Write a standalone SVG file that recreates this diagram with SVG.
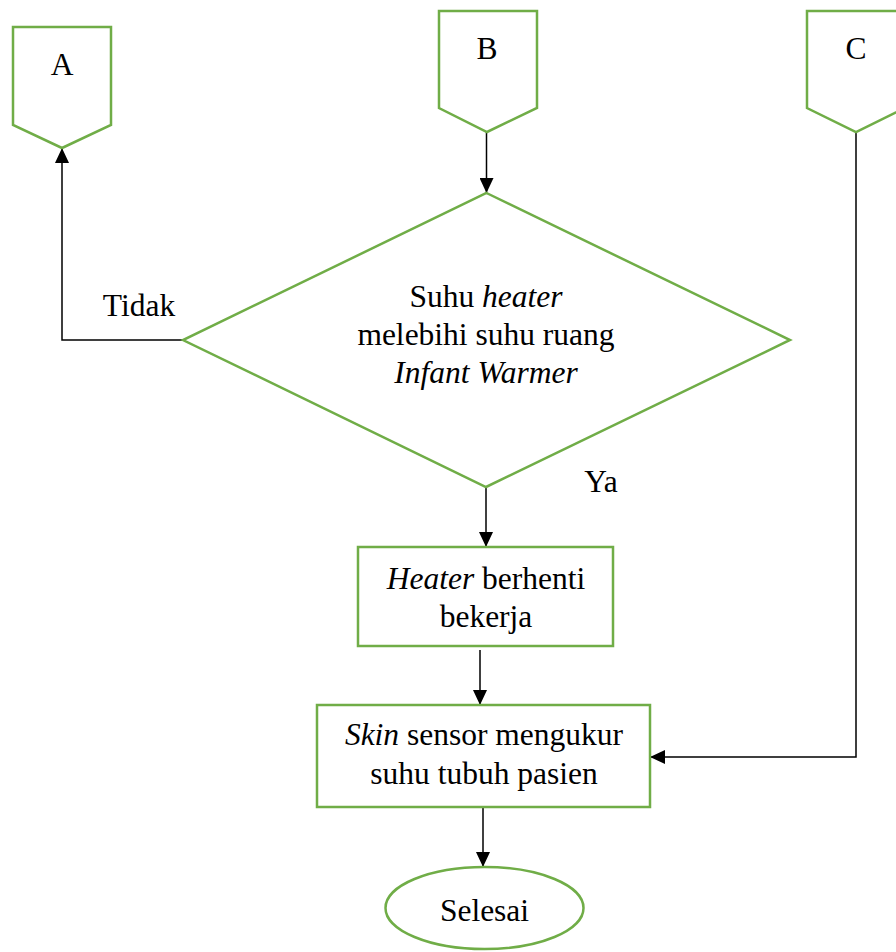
<svg xmlns="http://www.w3.org/2000/svg" width="896" height="952" viewBox="0 0 896 952">
<style>
.n{fill:#fff;stroke:#70AD47;stroke-width:2.5}
.c{fill:none;stroke:#000;stroke-width:1.5}
text{font-family:"Liberation Serif","Times New Roman",serif;font-size:31.5px;fill:#000;text-anchor:middle}
.i{font-style:italic}
</style>
<defs>
<marker id="ah" markerWidth="15" markerHeight="14" refX="15" refY="7" orient="auto" markerUnits="userSpaceOnUse">
<path d="M0,0 L15,7 L0,14 Z" fill="#000"/>
</marker>
</defs>
<g id="connectors">
<path class="c" d="M486.5,132 L486.5,193" marker-end="url(#ah)"/>
<path class="c" d="M183,340 L62,340 L62,148" marker-end="url(#ah)"/>
<path class="c" d="M486,487 L486,547" marker-end="url(#ah)"/>
<path class="c" d="M480,650 L480,705" marker-end="url(#ah)"/>
<path class="c" d="M483,807 L483,867" marker-end="url(#ah)"/>
<path class="c" d="M856,132 L856,757 L650,757" marker-end="url(#ah)"/>
<text x="139" y="316">Tidak</text>
<text x="601" y="492">Ya</text>
</g>
<g id="A">
<path class="n" d="M13,27 L111,27 L111,125 L62,148 L13,125 Z"/>
<text x="62" y="75">A</text>
</g>
<g id="B">
<path class="n" d="M439,11 L537,11 L537,108 L487,132 L439,108 Z"/>
<text x="487" y="59">B</text>
</g>
<g id="C">
<path class="n" d="M807,11 L905,11 L905,108 L856,132 L807,108 Z"/>
<text x="856" y="59">C</text>
</g>
<g id="decision">
<path class="n" d="M486.5,193 L790,340 L486,487 L183,340 Z"/>
<text x="486" y="307">Suhu <tspan class="i">heater</tspan></text>
<text x="486" y="345">melebihi suhu ruang</text>
<text x="486" y="383" class="i">Infant Warmer</text>
</g>
<g id="heater">
<rect class="n" x="358" y="547" width="255" height="99"/>
<text x="486" y="589"><tspan class="i">Heater</tspan> berhenti</text>
<text x="486" y="627">bekerja</text>
</g>
<g id="skin">
<rect class="n" x="317" y="705" width="333" height="102"/>
<text x="484" y="745"><tspan class="i">Skin</tspan> sensor mengukur</text>
<text x="484" y="784">suhu tubuh pasien</text>
</g>
<g id="selesai">
<ellipse class="n" cx="484.5" cy="908" rx="99" ry="41"/>
<text x="484.5" y="921">Selesai</text>
</g>
</svg>
